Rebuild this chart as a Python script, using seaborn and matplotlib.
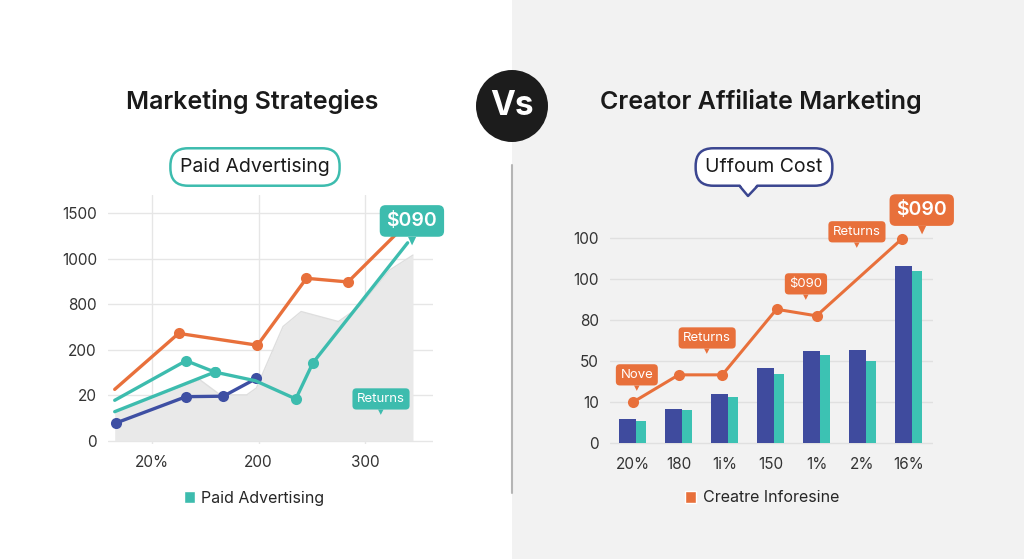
import numpy as np
import pandas as pd
import seaborn as sns
import matplotlib.pyplot as plt
from matplotlib.patches import Rectangle, Ellipse, Polygon, Patch
from matplotlib.lines import Line2D

# ---- left panel data (y in tick-slot units, ticks are unevenly labelled)
left_yticklabels = ["0", "20", "200", "800", "1000", "1500"]
left_xticks = [1, 2, 3]
left_xticklabels = ["20%", "200", "300"]

orange_x = [0.65, 1.25, 1.99, 2.45, 2.84, 3.30]
orange_y = [1.13, 2.36, 2.10, 3.57, 3.49, 4.56]
tealA_x = [0.65, 1.32, 1.59, 1.97, 2.35, 2.51, 3.40]
tealA_y = [0.89, 1.76, 1.51, 1.32, 0.92, 1.71, 4.35]
tealB_x = [0.65, 1.59]
tealB_y = [0.64, 1.51]
blue_x = [0.66, 1.32, 1.67, 1.98]
blue_y = [0.39, 0.97, 0.98, 1.37]
area_x = [0.65, 1.45, 1.64, 1.89, 1.98, 2.23, 2.40, 2.75, 2.95, 3.23, 3.45]
area_y = [0.64, 1.34, 1.01, 1.01, 1.16, 2.51, 2.84, 2.62, 2.95, 3.75, 4.08]

# ---- right panel data
right_cats = ["20%", "180", "1i%", "150", "1%", "2%", "16%"]
right_yticklabels = ["0", "10", "50", "80", "100", "100"]
bar_blue = [0.60, 0.84, 1.20, 1.83, 2.26, 2.28, 4.33]
bar_teal = [0.55, 0.81, 1.13, 1.69, 2.15, 2.01, 4.21]
line_x = [0.0, 1.0, 1.95, 3.13, 4.0, 5.85]
line_y = [1.00, 1.67, 1.67, 3.27, 3.11, 4.98]

# annotation tags: (text, x, y, fontsize)
left_tags = [("$090", 3.44, 4.83, 14), ("Returns", 3.15, 0.92, 9.5)]
right_tags = [("Nove", 0.09, 1.67, 9.5), ("Returns", 1.62, 2.57, 9.5),
              ("$090", 3.77, 3.89, 9.5), ("Returns", 4.88, 5.16, 9.5),
              ("$090", 6.29, 5.69, 14)]

ORANGE = "#e8703b"
TEAL = "#3dbcae"
BLUE = "#3e4fa3"
NAVY = "#3b4690"
BAR_BLUE = "#3f4b9e"
BAR_TEAL = "#3cc2b3"
GRID = "#e6e6e6"

sns.set_style("white")
plt.rcParams["font.family"] = ["Inter", "DejaVu Sans"]

W, H = 1024, 559


def fx(px):
    return px / W


def fy(py):
    return 1 - py / H


fig = plt.figure(figsize=(10.24, 5.59), dpi=100)
fig.patches.append(Rectangle((0.5, 0), 0.5, 1, transform=fig.transFigure,
                             fc="#f2f2f2", ec="none", zorder=-5))
fig.lines.append(Line2D([fx(512), fx(512)], [fy(165), fy(493)],
                        transform=fig.transFigure, color="#b5b5b5", lw=1.5))

# titles
fig.text(fx(252), fy(102), "Marketing Strategies", ha="center", va="center",
         fontsize=18, fontweight="semibold", color="#1a1a1a")
fig.text(fx(761), fy(101), "Creator Affiliate Marketing", ha="center", va="center",
         fontsize=18, fontweight="semibold", color="#1a1a1a")

# vs badge
fig.patches.append(Ellipse((fx(512), fy(106)), 72 / W, 72 / H, transform=fig.transFigure,
                           fc="#1c1c1c", ec="none", zorder=3))
fig.text(fx(512), fy(106), "Vs", ha="center", va="center", fontsize=24,
         fontweight="bold", color="white", zorder=4)

# pills
fig.text(fx(255), fy(167), "Paid Advertising", ha="center", va="center", fontsize=14,
         color="#1a1a1a",
         bbox=dict(boxstyle="round,pad=0.5,rounding_size=0.9", fc="white", ec=TEAL, lw=1.8))
fig.text(fx(764), fy(167), "Uffoum Cost", ha="center", va="center", fontsize=14,
         color="#1a1a1a", zorder=3,
         bbox=dict(boxstyle="round,pad=0.5,rounding_size=0.9", fc="white", ec=NAVY, lw=1.8))
tail = [(fx(740), fy(184)), (fx(748), fy(196)), (fx(757), fy(184))]
fig.patches.append(Polygon(tail, closed=True, transform=fig.transFigure,
                           fc="white", ec="none", zorder=4))
fig.lines.append(Line2D([fx(740), fx(748), fx(757)], [fy(186.5), fy(196), fy(186.5)],
                        transform=fig.transFigure, color=NAVY, lw=1.8, zorder=5))


def tag(ax, text, x, y, size, fc):
    ax.text(x, y, text, ha="center", va="center", color="white", fontsize=size,
            fontweight="semibold" if size > 12 else "normal", zorder=8,
            bbox=dict(boxstyle="round,pad=0.35,rounding_size=0.3", fc=fc, ec="none"))
    ax.annotate("▼", xy=(x, y), xytext=(0, -1.0 * size), textcoords="offset points",
                ha="center", va="center", color=fc, fontsize=size * 0.55, zorder=8,
                family=["DejaVu Sans"])


# ---------------- left chart
ax1 = fig.add_axes([fx(108), fy(444), fx(433) - fx(108), fy(195) - fy(444)])
ax1.patch.set_alpha(0)
ax1.fill_between(area_x, area_y, 0, color="#e9e9e9", lw=0, zorder=1)
ax1.plot(area_x, area_y, color="#dedede", lw=1, zorder=1)

sns.lineplot(x=blue_x, y=blue_y, ax=ax1, sort=False, color=BLUE, lw=2.4,
             marker="o", markersize=8, markeredgewidth=0, zorder=3)
sns.lineplot(x=tealB_x, y=tealB_y, ax=ax1, sort=False, color=TEAL, lw=2.4,
             marker="o", markersize=8, markeredgewidth=0, markevery=[1], zorder=4)
sns.lineplot(x=tealA_x, y=tealA_y, ax=ax1, sort=False, color=TEAL, lw=2.4,
             marker="o", markersize=8, markeredgewidth=0, markevery=[1, 2, 4, 5], zorder=4)
sns.lineplot(x=orange_x, y=orange_y, ax=ax1, sort=False, color=ORANGE, lw=2.4,
             marker="o", markersize=8, markeredgewidth=0, markevery=[1, 2, 3, 4], zorder=5)

for t, x, y, s in left_tags:
    tag(ax1, t, x, y, s, TEAL)

ax1.set_xlim(0.587, 3.638)
ax1.set_ylim(-0.07, 5.4)
ax1.set_yticks(range(len(left_yticklabels)))
ax1.set_yticklabels(left_yticklabels)
ax1.set_xticks(left_xticks)
ax1.set_xticklabels(left_xticklabels)
ax1.grid(True, color=GRID, lw=1)
ax1.set_axisbelow(True)

ax1.legend(handles=[Patch(facecolor=TEAL, label="Paid Advertising")],
           loc="center", bbox_to_anchor=(fx(254), fy(498)), bbox_transform=fig.transFigure,
           frameon=False, fontsize=11.5, handlelength=0.7, handleheight=0.7, handletextpad=0.4)

# ---------------- right chart
ax2 = fig.add_axes([fx(610), fy(446), fx(933) - fx(610), fy(190) - fy(446)])
ax2.patch.set_alpha(0)
idx = np.arange(len(right_cats))
bars = pd.DataFrame({"pos": idx, "blue": bar_blue, "teal": bar_teal})
sns.barplot(x=bars["pos"] + 0.11, y=bars["teal"], ax=ax2, native_scale=True,
            width=0.38, color=BAR_TEAL, saturation=1, linewidth=0, zorder=2)
sns.barplot(x=bars["pos"] - 0.11, y=bars["blue"], ax=ax2, native_scale=True,
            width=0.38, color=BAR_BLUE, saturation=1, linewidth=0, zorder=3)
sns.lineplot(x=line_x, y=line_y, ax=ax2, sort=False, color=ORANGE, lw=2.2,
             marker="o", markersize=8, markeredgewidth=0, zorder=5)

for t, x, y, s in right_tags:
    tag(ax2, t, x, y, s, ORANGE)

ax2.set_xlim(-0.494, 6.535)
ax2.set_ylim(-0.066, 6.18)
ax2.set_xticks(idx)
ax2.set_xticklabels(right_cats)
ax2.set_yticks(range(len(right_yticklabels)))
ax2.set_yticklabels(right_yticklabels)
ax2.yaxis.grid(True, color="#e0e0e0", lw=1)
ax2.xaxis.grid(False)
ax2.set_axisbelow(True)
ax2.set_xlabel("")
ax2.set_ylabel("")

ax2.legend(handles=[Patch(facecolor=ORANGE, label="Creatre Inforesine")],
           loc="center", bbox_to_anchor=(fx(762), fy(498)), bbox_transform=fig.transFigure,
           frameon=False, fontsize=11.5, handlelength=0.7, handleheight=0.7, handletextpad=0.4)

for ax in (ax1, ax2):
    sns.despine(ax=ax, left=True, bottom=True)
    ax.tick_params(length=0, labelsize=11, labelcolor="#333333", pad=8)

fig.savefig("out.png", dpi=100)
